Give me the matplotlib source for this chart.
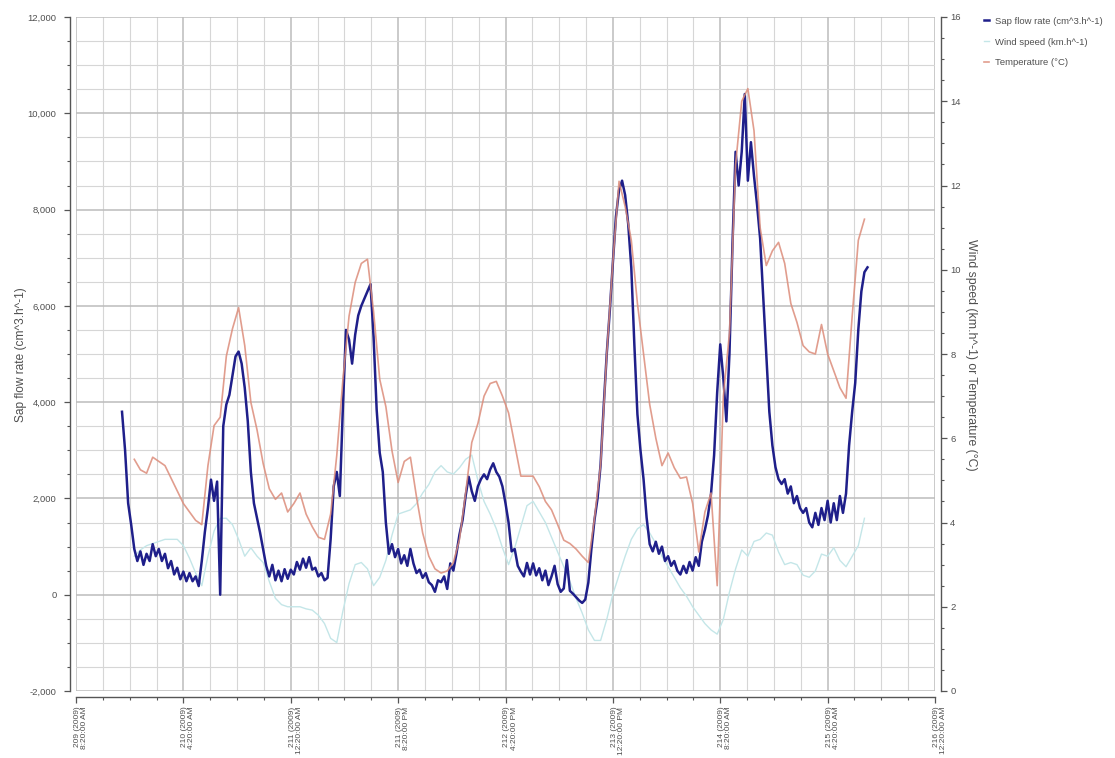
import numpy as np
import matplotlib
matplotlib.use("Agg")
import matplotlib.pyplot as plt
from matplotlib.ticker import MultipleLocator, FuncFormatter, FixedLocator
from matplotlib.transforms import ScaledTranslation

plt.rcParams['font.family'] = ['Liberation Sans', 'DejaVu Sans']

# Time axis: hours since day 209 (2009) 08:20
sap_start_hour, sap_step_hour = 8.57, 4 / 7
met_start_hour, met_step_hour = 10.86, 8 / 7

# Sap flow rate (cm^3.h^-1)
sap_flow = [
    3800, 3000, 1900, 1450, 950, 700, 900, 620, 850, 700, 1050, 800,
    950, 700, 850, 550, 700, 420, 560, 320, 480, 280, 450, 280,
    380, 180, 700, 1300, 1800, 2390, 1950, 2350, 0, 3500, 3950, 4150,
    4550, 4950, 5050, 4800, 4300, 3600, 2550, 1900, 1600, 1290, 950, 600,
    380, 620, 300, 500, 280, 530, 330, 520, 420, 680, 520, 750,
    560, 780, 520, 560, 380, 450, 300, 350, 1150, 2250, 2550, 2050,
    3900, 5500, 5300, 4800, 5400, 5800, 6000, 6150, 6300, 6450, 5350, 3850,
    2950, 2550, 1500, 850, 1050, 780, 950, 650, 820, 600, 950, 650,
    450, 520, 350, 450, 260, 200, 60, 300, 260, 380, 120, 650,
    500, 850, 1250, 1550, 2050, 2450, 2150, 1950, 2250, 2400, 2500, 2400,
    2600, 2730, 2550, 2450, 2250, 1900, 1500, 900, 950, 600, 480, 380,
    660, 420, 650, 400, 550, 300, 500, 200, 380, 600, 220, 60,
    130, 720, 80, 20, -50, -120, -170, -100, 250, 950, 1550, 2000,
    2700, 3900, 5000, 5900, 6900, 7850, 8400, 8600, 8300, 7700, 6800, 5200,
    3750, 3000, 2400, 1600, 1050, 900, 1100, 850, 1000, 700, 800, 600,
    700, 500, 420, 600, 450, 680, 500, 780, 600, 1100, 1350, 1650,
    2100, 2900, 4200, 5200, 4500, 3600, 5000, 7300, 9200, 8500, 9200, 10400,
    8600, 9400, 8700, 8100, 7400, 6200, 5000, 3800, 3100, 2650, 2400, 2300,
    2400, 2100, 2250, 1900, 2050, 1800, 1700, 1800, 1500, 1400, 1700, 1450,
    1800, 1550, 1950, 1500, 1900, 1550, 2050, 1700, 2100, 3100, 3800, 4400,
    5500, 6300, 6700, 6800,
]

# Air temperature (deg C)
temperature = [
    5.5, 5.25, 5.17, 5.55, 5.45, 5.35, 5.05, 4.75, 4.45, 4.25, 4.05, 3.95,
    5.35, 6.3, 6.5, 7.95, 8.6, 9.1, 8.2, 6.85, 6.2, 5.4, 4.8, 4.55,
    4.7, 4.25, 4.45, 4.7, 4.2, 3.9, 3.65, 3.6, 4.2, 5.6, 7.4, 8.9,
    9.7, 10.15, 10.25, 9.0, 7.4, 6.75, 5.7, 4.95, 5.45, 5.55, 4.6, 3.75,
    3.2, 2.9, 2.8, 2.85, 3.05, 3.6, 4.7, 5.9, 6.35, 7.0, 7.3, 7.35,
    7.0, 6.6, 5.85, 5.1, 5.1, 5.1, 4.85, 4.5, 4.3, 3.95, 3.58, 3.5,
    3.37, 3.2, 3.05, 4.1, 5.37, 8.0, 10.2, 12.1, 11.5, 10.7, 9.2, 8.0,
    6.8, 6.0, 5.35, 5.65, 5.3, 5.05, 5.08, 4.45, 3.3, 4.25, 4.7, 2.5,
    7.0, 8.5, 12.5, 14.0, 14.3, 13.3, 11.0, 10.1, 10.45, 10.65, 10.15, 9.2,
    8.75, 8.2, 8.05, 8.0, 8.7, 8.0, 7.6, 7.2, 6.95, 8.9, 10.7, 11.2,
]

# Wind speed (km.h^-1)
wind_speed = [
    3.2, 3.35, 3.45, 3.5, 3.55, 3.6, 3.6, 3.6, 3.45, 3.15, 2.8, 2.5,
    3.2, 3.8, 4.1, 4.1, 3.95, 3.6, 3.2, 3.4, 3.2, 3.05, 2.6, 2.2,
    2.05, 2.0, 2.0, 2.0, 1.95, 1.92, 1.8, 1.6, 1.25, 1.15, 1.9, 2.55,
    3.0, 3.05, 2.9, 2.5, 2.7, 3.1, 3.7, 4.2, 4.25, 4.3, 4.45, 4.7,
    4.9, 5.2, 5.35, 5.2, 5.15, 5.3, 5.5, 5.6, 5.0, 4.5, 4.2, 3.85,
    3.4, 3.0, 3.4, 3.9, 4.4, 4.5, 4.25, 4.0, 3.65, 3.3, 2.95, 2.6,
    2.2, 1.85, 1.45, 1.2, 1.2, 1.7, 2.3, 2.75, 3.2, 3.6, 3.85, 3.95,
    3.75, 3.5, 3.2, 2.95, 2.7, 2.45, 2.25, 2.0, 1.8, 1.6, 1.45, 1.35,
    1.7, 2.35, 2.9, 3.35, 3.2, 3.55, 3.6, 3.75, 3.7, 3.3, 3.0, 3.05,
    3.0, 2.75, 2.7, 2.85, 3.25, 3.2, 3.4, 3.1, 2.95, 3.2, 3.45, 4.1,
]

tick_hours = [0, 20, 40, 60, 80, 100, 120, 140, 160]
tick_labels = [
    "209 (2009)\n8:20:00 AM",
    "210 (2009)\n4:20:00 AM",
    "211 (2009)\n12:20:00 AM",
    "211 (2009)\n8:20:00 PM",
    "212 (2009)\n4:20:00 PM",
    "213 (2009)\n12:20:00 PM",
    "214 (2009)\n8:20:00 AM",
    "215 (2009)\n4:20:00 AM",
    "216 (2009)\n12:20:00 AM",
]

sap_t = sap_start_hour + sap_step_hour * np.arange(len(sap_flow))
met_t = met_start_hour + met_step_hour * np.arange(len(temperature))

SAP_COLOR = "#1f1f8a"
TEMP_COLOR = "#dc8c7a"
WIND_COLOR = "#c4e6e8"
TEXT_COLOR = "#505050"
AXIS_COLOR = "#555555"

W, H = 1115, 758
fig = plt.figure(figsize=(W / 100, H / 100), dpi=100)
fig.patch.set_facecolor("white")
ax = fig.add_axes([76 / W, 1 - 691 / H, (935 - 76) / W, (691 - 17) / H])
ax2 = ax.twinx()

# wind under sap flow, temperature over it
ax.plot(met_t, wind_speed, color=WIND_COLOR, lw=1.0, transform=ax2.transData,
        label="Wind speed (km.h^-1)", zorder=2)
ax.plot(sap_t, sap_flow, color=SAP_COLOR, lw=1.8, zorder=3,
        label="Sap flow rate (cm^3.h^-1)")
ax2.plot(met_t, temperature, color=TEMP_COLOR, lw=1.2, alpha=0.85,
         label="Temperature (\u00b0C)", zorder=4)

ax.set_xlim(0, 160)
ax.set_ylim(-2000, 12000)
ax2.set_ylim(0, 16)

ax.xaxis.set_major_locator(FixedLocator(tick_hours))
ax.set_xticklabels(tick_labels)
ax.xaxis.set_minor_locator(MultipleLocator(5))
ax.yaxis.set_major_locator(MultipleLocator(2000))
ax.yaxis.set_minor_locator(MultipleLocator(500))
ax.yaxis.set_major_formatter(FuncFormatter(lambda v, p: f"{v:,.0f}"))
ax2.yaxis.set_major_locator(MultipleLocator(2))
ax2.yaxis.set_minor_locator(MultipleLocator(0.5))
ax2.yaxis.set_major_formatter(FuncFormatter(lambda v, p: f"{v:.0f}"))

ax.grid(which="major", color="#bcbcbc", lw=1.1)
ax.grid(which="minor", color="#d6d6d6", lw=0.8)
ax.set_axisbelow(True)

for s in ("top", "right"):
    ax.spines[s].set_visible(False)
for s in ("top", "left", "bottom"):
    ax2.spines[s].set_visible(False)
ax.spines["bottom"].set_position(("outward", 4.3))
ax.spines["left"].set_position(("outward", 4))
ax2.spines["right"].set_position(("outward", 4))
for sp in (ax.spines["bottom"], ax.spines["left"], ax2.spines["right"]):
    sp.set_color(AXIS_COLOR)
    sp.set_linewidth(1.0)

ax.tick_params(axis="both", which="major", length=4, width=0.9,
               color=AXIS_COLOR, labelcolor=TEXT_COLOR)
ax.tick_params(axis="both", which="minor", length=2.5, width=0.8,
               color=AXIS_COLOR)
ax.tick_params(axis="y", labelsize=6.8, pad=6)
ax.tick_params(axis="x", labelsize=6.0, pad=3)
ax2.tick_params(axis="y", which="major", length=4, width=0.9,
                color=AXIS_COLOR, labelcolor=TEXT_COLOR, labelsize=6.8, pad=3)
ax2.tick_params(axis="y", which="minor", length=2.5, width=0.8,
                color=AXIS_COLOR)

shift = ScaledTranslation(-2 / 100, 0, fig.dpi_scale_trans)
for lab in ax.get_xticklabels():
    lab.set_rotation(90)
    lab.set_horizontalalignment("left")
    lab.set_verticalalignment("top")
    lab.set_multialignment("right")
    lab.set_linespacing(1.0)
    lab.set_transform(lab.get_transform() + shift)

ax.set_ylabel("Sap flow rate (cm^3.h^-1)", fontsize=8.6, color=TEXT_COLOR)
ax.yaxis.set_label_coords(27 / W, 1 - 355 / H, transform=fig.transFigure)
ax2.set_ylabel("Wind speed (km.h^-1) or Temperature (\u00b0C)", fontsize=8.8,
               color=TEXT_COLOR, rotation=270)
ax2.yaxis.set_label_coords(977 / W, 1 - 355 / H, transform=fig.transFigure)

handles = [ax.lines[1], ax.lines[0], ax2.lines[0]]
leg = fig.legend(handles, [h.get_label() for h in handles],
                 loc="upper left", bbox_to_anchor=(980 / W, 1 - 13 / H),
                 frameon=False, fontsize=6.8, handlelength=0.6,
                 handletextpad=0.6, labelspacing=1.25, borderaxespad=0)
for t in leg.get_texts():
    t.set_color(TEXT_COLOR)

fig.savefig("out.png", dpi=100, facecolor="white")
